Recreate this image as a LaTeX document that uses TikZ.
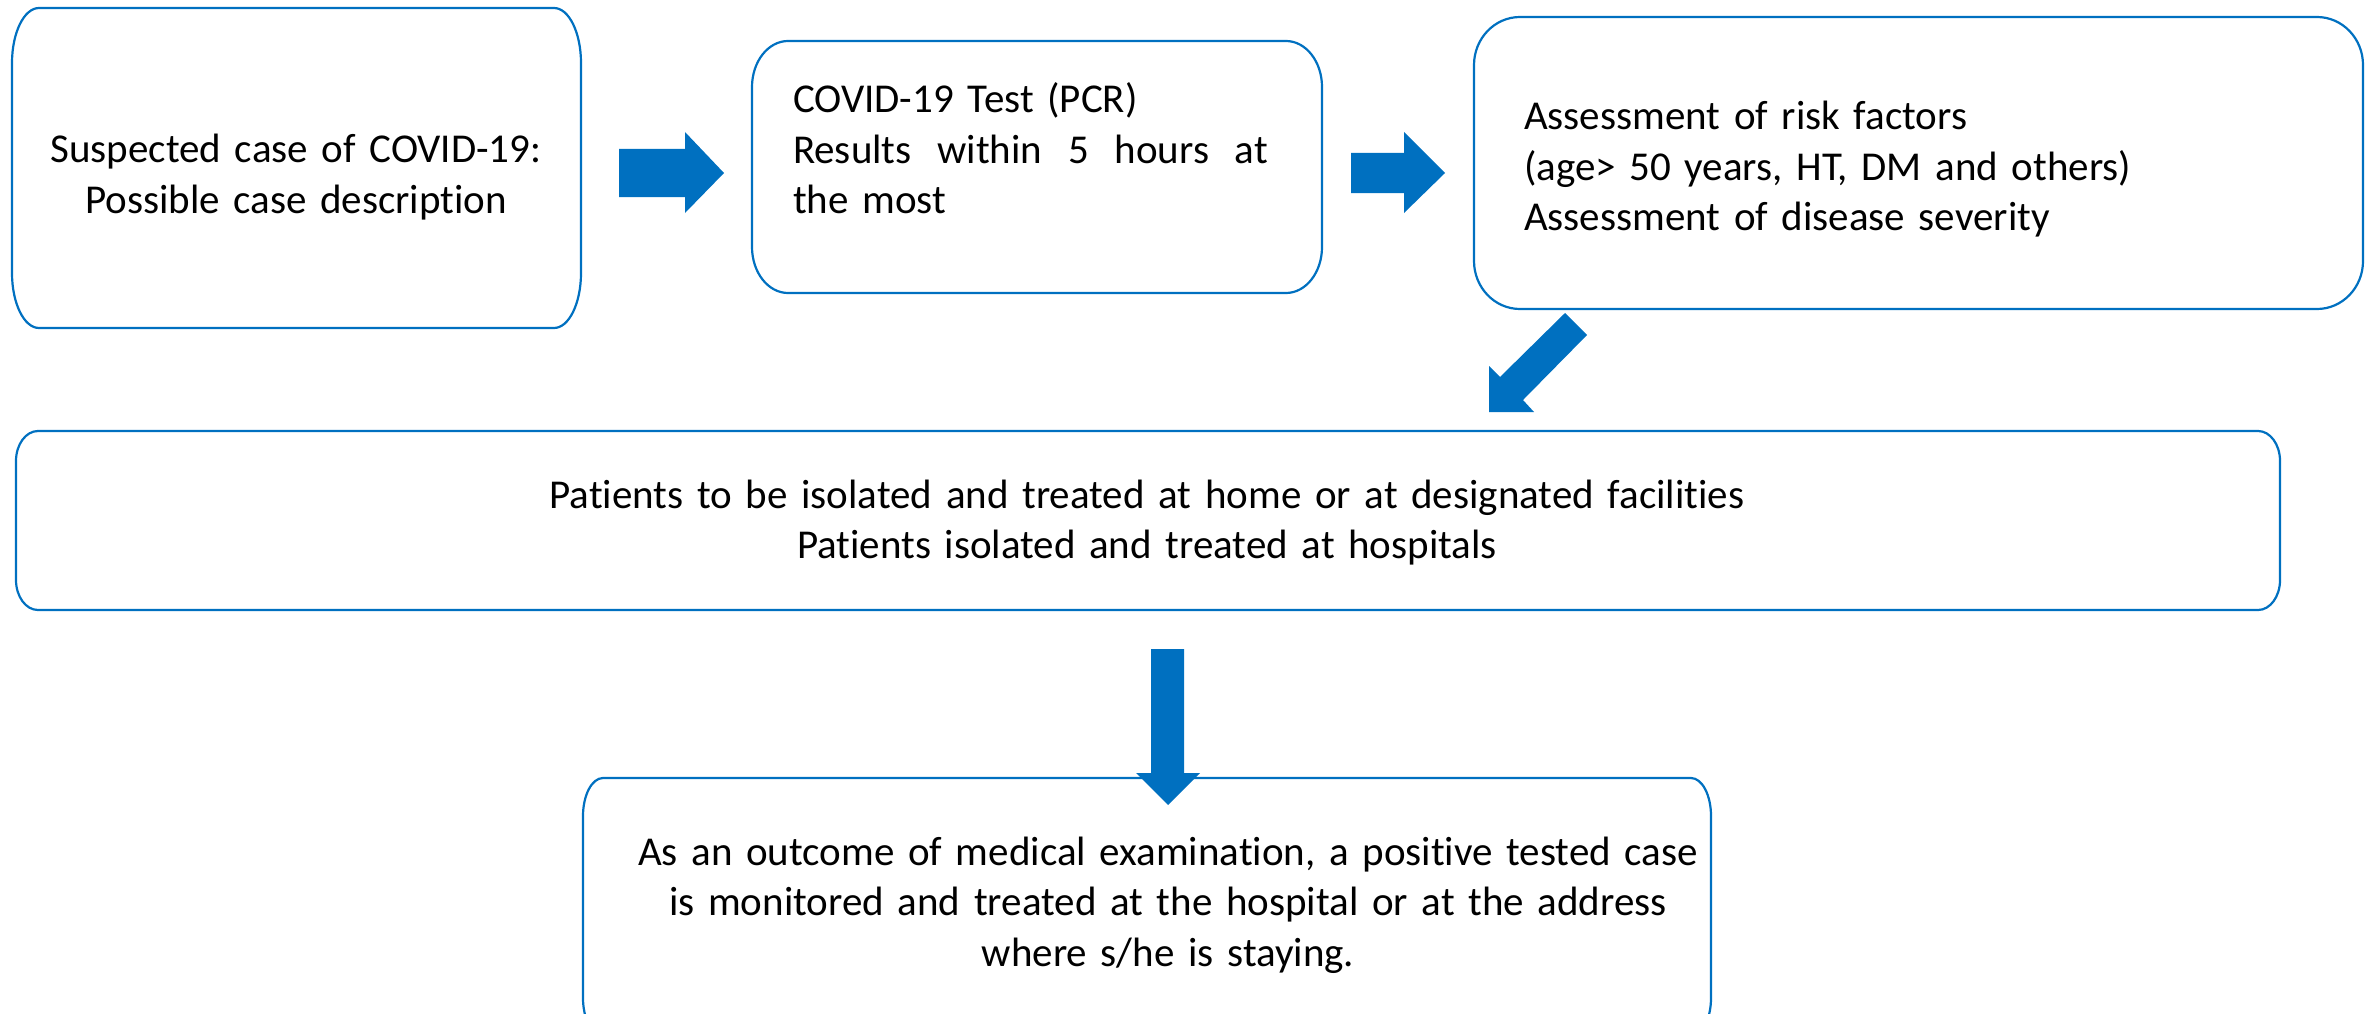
\documentclass[tikz,border=0pt]{standalone}
\usepackage{fontspec}
\setmainfont[Ligatures={NoCommon}]{Carlito}
\usetikzlibrary{calc}
\definecolor{boxblue}{HTML}{0070C0}
\definecolor{arrowblue}{HTML}{0070C0}
\tikzset{
  boxline/.style={draw=boxblue, line width=2.2pt, fill=white},
  arrowshape/.style={fill=arrowblue, draw=none},
  txt/.style={inner sep=0pt, outer sep=0pt, font=\fontsize{41}{50.5}\selectfont},
}
% name, x1, y1, x2, y2, rx, ry (pixel units)
\newcommand\ebox[7]{%
  \node[draw=none, inner sep=0pt, outer sep=0pt,
        minimum width={(#4-#2)*1pt}, minimum height={(#5-#3)*1pt}]
        (#1) at ({(#2+#4)/2},{(#3+#5)/2}) {};
  \draw[boxline] (#1.north west) ++(#6pt,0pt)
    -- ([xshift=-#6pt]#1.north east)
    arc[start angle=90,end angle=0,x radius=#6pt,y radius=#7pt]
    -- ([yshift=#7pt]#1.south east)
    arc[start angle=0,end angle=-90,x radius=#6pt,y radius=#7pt]
    -- ([xshift=#6pt]#1.south west)
    arc[start angle=270,end angle=180,x radius=#6pt,y radius=#7pt]
    -- ([yshift=-#7pt]#1.north west)
    arc[start angle=180,end angle=90,x radius=#6pt,y radius=#7pt]
    -- cycle;
}
\begin{document}
\begin{tikzpicture}[x=1pt,y=-1pt]
\useasboundingbox (0,0) rectangle (2369,1014);
\clip (0,0) rectangle (2369,1014);

% boxes
\ebox{b1}{12}{8}{581}{328}{27}{55}
\ebox{b2}{752}{41}{1322}{293}{36}{46}
\ebox{b3}{1474}{17}{2363}{309}{46}{48}
\ebox{b4}{16}{431}{2280}{610}{22}{30}
\ebox{b5}{583}{778}{1711}{1036}{20}{38}

% texts
\node[txt, text width=540pt, align=center, anchor=base] (t1) at (296,163)
  {Suspected case of COVID-19:\\Possible case description};
\node[txt, text width=475pt, align=left, anchor=base west] (t2) at (793,113)
  {COVID-19 Test (PCR)\\\makebox[475pt]{Results\hfill within\hfill 5\hfill hours\hfill at}\\the most};
\node[txt, text width=800pt, align=left, anchor=base west] (t3) at (1524,130)
  {Assessment of risk factors\\(age> 50 years, HT, DM and others)\\Assessment of disease severity};
\node[txt, text width=1600pt, align=center, anchor=base] (t4) at (1147,508)
  {Patients to be isolated and treated at home or at designated facilities\\Patients isolated and treated at hospitals};
\node[txt, text width=1100pt, align=center, anchor=base] (t5) at (1168,865)
  {As an outcome of medical examination, a positive tested case\\is monitored and treated at the hospital or at the address\\where s/he is staying.};

% block arrows
\fill[arrowshape] (619,149) -- (685,149) -- (685,132) -- (724,173) -- (685,213) -- (685,197) -- (619,197) -- cycle;
\fill[arrowshape] (1351,153) -- (1404,153) -- (1404,132) -- (1445,173) -- (1404,213) -- (1404,193) -- (1351,193) -- cycle;
\fill[arrowshape] (1565,313) -- (1587,335) -- (1523,400) -- (1534,412) -- (1489,412) -- (1489,366) -- (1500,377) -- cycle;
\fill[arrowshape] (1151,649) -- (1184,649) -- (1184,773) -- (1200,773) -- (1168,805) -- (1136,773) -- (1151,773) -- cycle;
\end{tikzpicture}
\end{document}
